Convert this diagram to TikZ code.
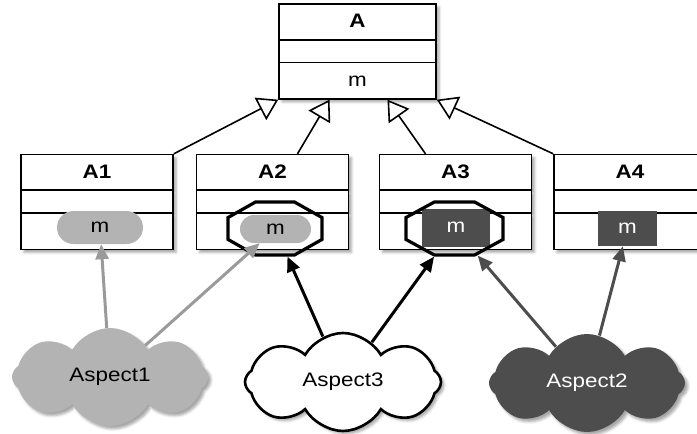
\documentclass[tikz,border=0pt]{standalone}
\usepackage{fontspec}
\setmainfont{Liberation Sans}[FakeStretch=1.15]
\usetikzlibrary{arrows.meta,shapes.multipart,shapes.misc,shapes.symbols,shapes.geometric,shadows.blur}
\definecolor{lightasp}{HTML}{B3B3B3}
\definecolor{lightline}{HTML}{9A9A9A}
\definecolor{darkasp}{HTML}{4D4D4D}

\begin{document}
\begin{tikzpicture}[x=1pt,y=-1pt,
  every node/.style={font=\fontsize{19.5}{21}\selectfont},
  soft/.style={blur shadow={shadow xshift=3pt,shadow yshift=-3pt,shadow blur radius=2.5pt,shadow opacity=35}},
  classbox/.style={rectangle split,rectangle split parts=3,draw,line width=1.6pt,fill=white,soft,
                   minimum width=152pt,inner xsep=0pt,inner ysep=0pt,
                   rectangle split empty part height=21pt,rectangle split empty part depth=0pt},
  pill/.style={rounded rectangle,fill=lightasp,inner sep=0pt},
  dark/.style={rectangle,fill=darkasp,text=white,inner sep=0pt},
  octo/.style={regular polygon,regular polygon sides=8,draw,line width=3.2pt,inner sep=0pt,
               minimum size=57.4pt,transform shape},
  cloudbox/.style={cloud,cloud puffs=8,cloud puff arc=120,aspect=2,
                   minimum width=196pt,minimum height=98pt,soft},
  isa/.style={-{Triangle[open,length=20pt,width=25pt,fill=white]},line width=1.6pt},
  weave/.style={-{Triangle[length=15pt,width=13pt]},line width=3pt}]
\useasboundingbox (0,0) rectangle (697,434);

% classes
\node[classbox,minimum width=157pt] (A) at (357.5,51.5)
  {\rule[-11pt]{0pt}{34pt}\textbf{A}\nodepart{two}\nodepart{three}\rule[-12pt]{0pt}{35pt}m};
\node[classbox] (A1) at (97,202) {\rule[-11pt]{0pt}{34pt}\textbf{A1}\nodepart{two}\nodepart{three}\rule{0pt}{35pt}};
\node[classbox] (A2) at (272.5,202) {\rule[-11pt]{0pt}{34pt}\textbf{A2}\nodepart{two}\nodepart{three}\rule{0pt}{35pt}};
\node[classbox] (A3) at (455.5,202) {\rule[-11pt]{0pt}{34pt}\textbf{A3}\nodepart{two}\nodepart{three}\rule{0pt}{35pt}};
\node[classbox] (A4) at (630,202) {\rule[-11pt]{0pt}{34pt}\textbf{A4}\nodepart{two}\nodepart{three}\rule{0pt}{35pt}};

% woven methods
\node[pill,minimum width=86pt,minimum height=33pt] (m1) at (100,227.5) {m};
\node[pill,minimum width=71pt,minimum height=28pt] (m2) at (275.5,229) {m};
\node[octo,xscale=1.77] (o2) at (275,228.5) {};
\node[dark,minimum width=68pt,minimum height=38pt] (m3) at (456,227.5) {m};
\node[octo,xscale=1.83] (o3) at (454.5,228.5) {};
\node[dark,minimum width=59pt,minimum height=35pt] (m4) at (627.5,228.5) {m};

% aspects
\node[cloudbox,fill=lightasp] (asp1) at (110,377) {Aspect1};
\node[cloudbox,draw,line width=2.6pt,fill=white] (asp3) at (343,382) {Aspect3};
\node[cloudbox,fill=darkasp,text=white] (asp2) at (587,383) {Aspect2};

\draw[isa] (A1.north east) -- (A.south west);
\draw[isa] ([xshift=25pt]A2.north) -- ([xshift=-28pt]A.south);
\draw[isa] ([xshift=-30pt]A3.north) -- ([xshift=30pt]A.south);
\draw[isa] (A4.north west) -- (A.south east);

\draw[weave,lightline] (asp1) -- (m1);
\draw[weave,lightline] (asp1) -- (m2);
\draw[weave] (asp3) -- (o2);
\draw[weave] (asp3) -- (o3);
\draw[weave,darkasp] (asp2) -- (o3);
\draw[weave,darkasp] (asp2) -- (m4);
\end{tikzpicture}
\end{document}
